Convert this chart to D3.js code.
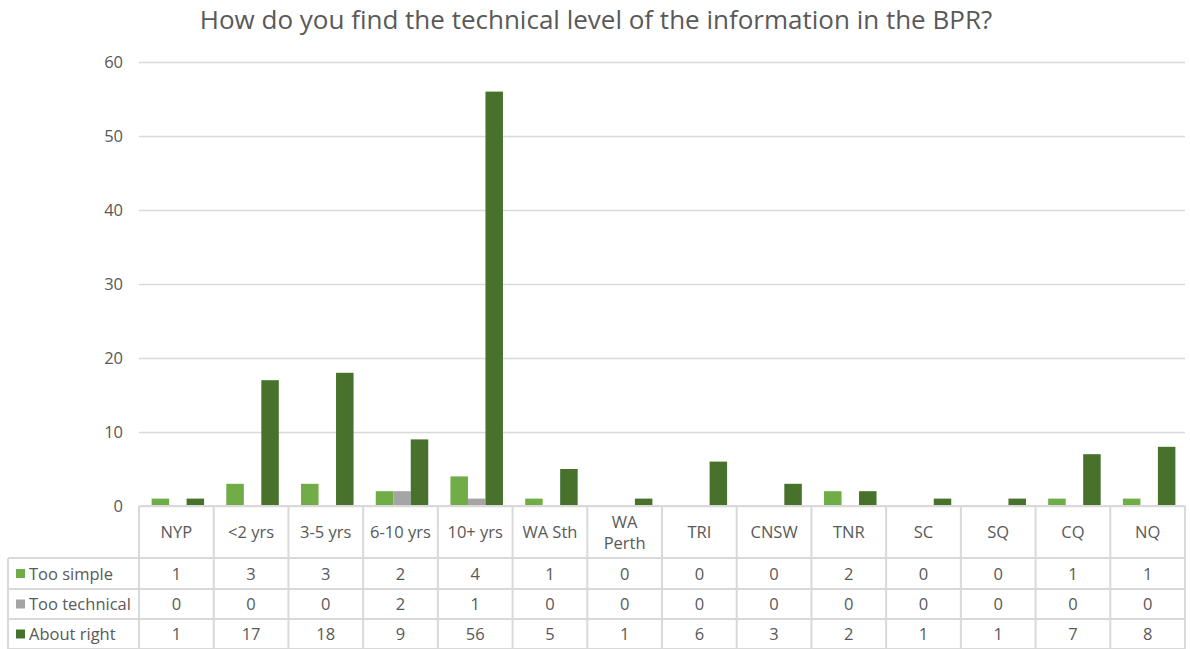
<!DOCTYPE html>
<html>
<head>
<meta charset="utf-8">
<script src="https://cdn.jsdelivr.net/npm/d3@7"></script>
<style>
  html, body { margin: 0; padding: 0; background: #fff; }
  svg { display: block; font-family: "Open Sans", "Liberation Sans", sans-serif; }
</style>
</head>
<body>
<svg id="chart" width="1190" height="649"></svg>
<script>
// Survey responses by respondent group
const categories = [["NYP"], ["<2 yrs"], ["3-5 yrs"], ["6-10 yrs"], ["10+ yrs"], ["WA Sth"], ["WA", "Perth"],
  ["TRI"], ["CNSW"], ["TNR"], ["SC"], ["SQ"], ["CQ"], ["NQ"]];
const seriesNames = ["Too simple", "Too technical", "About right"];
const tooSimple    = [1, 3, 3, 2, 4, 1, 0, 0, 0, 2, 0, 0, 1, 1];
const tooTechnical = [0, 0, 0, 2, 1, 0, 0, 0, 0, 0, 0, 0, 0, 0];
const aboutRight   = [1, 17, 18, 9, 56, 5, 1, 6, 3, 2, 1, 1, 7, 8];
const yTicks = [0, 10, 20, 30, 40, 50, 60];
const colors = ["#70ad47", "#a5a5a5", "#48722c"];

const series = [tooSimple, tooTechnical, aboutRight];
const svg = d3.select("#chart");

const plotLeft = 139, plotRight = 1185, plotTop = 62, plotBottom = 506;
const tableLeft = 8;
const rowBounds = [506, 558, 589, 619, 649];

const x = d3.scaleBand().domain(d3.range(categories.length)).range([plotLeft, plotRight]);
const y = d3.scaleLinear().domain([0, 60]).range([plotBottom, plotTop]);
// bars within a group sit side by side, group slightly right of the band centre
const groupW = 52.5;
const inner = d3.scaleBand().domain(d3.range(3))
  .range([x.bandwidth() / 2 - groupW / 2 + 1.5, x.bandwidth() / 2 + groupW / 2 + 1.5]);

// Title
svg.append("text")
  .attr("x", 596).attr("y", 29)
  .attr("text-anchor", "middle")
  .attr("fill", "#595959")
  .style("font-size", "26px")
  .text("How do you find the technical level of the information in the BPR?");

// Gridlines and y axis labels
const yAxis = d3.axisLeft(y).tickValues(yTicks).tickSize(-(plotRight - plotLeft)).tickPadding(16);
const gy = svg.append("g").attr("transform", `translate(${plotLeft},0)`).call(yAxis);
gy.select(".domain").remove();
gy.selectAll(".tick line").attr("stroke", "#d9d9d9").attr("stroke-width", 1.3);
gy.selectAll(".tick text").attr("fill", "#595959").style("font-size", "16.5px")
  .style("font-family", "'Open Sans', sans-serif");

// Bars
series.forEach((vals, si) => {
  svg.append("g").selectAll("rect")
    .data(vals)
    .join("rect")
    .attr("x", (d, i) => x(i) + inner(si))
    .attr("width", inner.bandwidth())
    .attr("y", d => y(d))
    .attr("height", d => plotBottom - y(d))
    .attr("fill", colors[si]);
});

// Data table
const grid = svg.append("g").attr("stroke", "#d9d9d9").attr("stroke-width", 2);
rowBounds.slice(1).forEach(yy => {
  grid.append("line").attr("x1", tableLeft).attr("x2", plotRight).attr("y1", yy).attr("y2", yy);
});
grid.append("line").attr("x1", plotLeft).attr("x2", plotRight).attr("y1", plotBottom).attr("y2", plotBottom);
d3.range(categories.length + 1).forEach(i => {
  const xx = i < categories.length ? x(i) : plotRight;
  grid.append("line").attr("x1", xx).attr("x2", xx).attr("y1", plotBottom).attr("y2", 649);
});
grid.append("line").attr("x1", tableLeft).attr("x2", tableLeft).attr("y1", rowBounds[1]).attr("y2", 649);

const txt = svg.append("g").attr("fill", "#595959").style("font-size", "16.5px");
// category header
categories.forEach((lines, i) => {
  const cx = x(i) + x.bandwidth() / 2;
  const cy = (rowBounds[0] + rowBounds[1]) / 2;
  const t = txt.append("text").attr("text-anchor", "middle");
  lines.forEach((ln, k) => {
    t.append("tspan").attr("x", cx)
      .attr("y", cy + 6 + (k - (lines.length - 1) / 2) * 21)
      .text(ln);
  });
});
// value rows with legend keys
series.forEach((vals, si) => {
  const cy = (rowBounds[si + 1] + rowBounds[si + 2]) / 2;
  svg.append("rect").attr("x", 16).attr("y", cy - 4.5).attr("width", 9).attr("height", 9).attr("fill", colors[si]);
  txt.append("text").attr("x", 29).attr("y", cy + 6).text(seriesNames[si]);
  vals.forEach((v, i) => {
    txt.append("text").attr("text-anchor", "middle")
      .attr("x", x(i) + x.bandwidth() / 2).attr("y", cy + 6).text(v);
  });
});
</script>
</body>
</html>
